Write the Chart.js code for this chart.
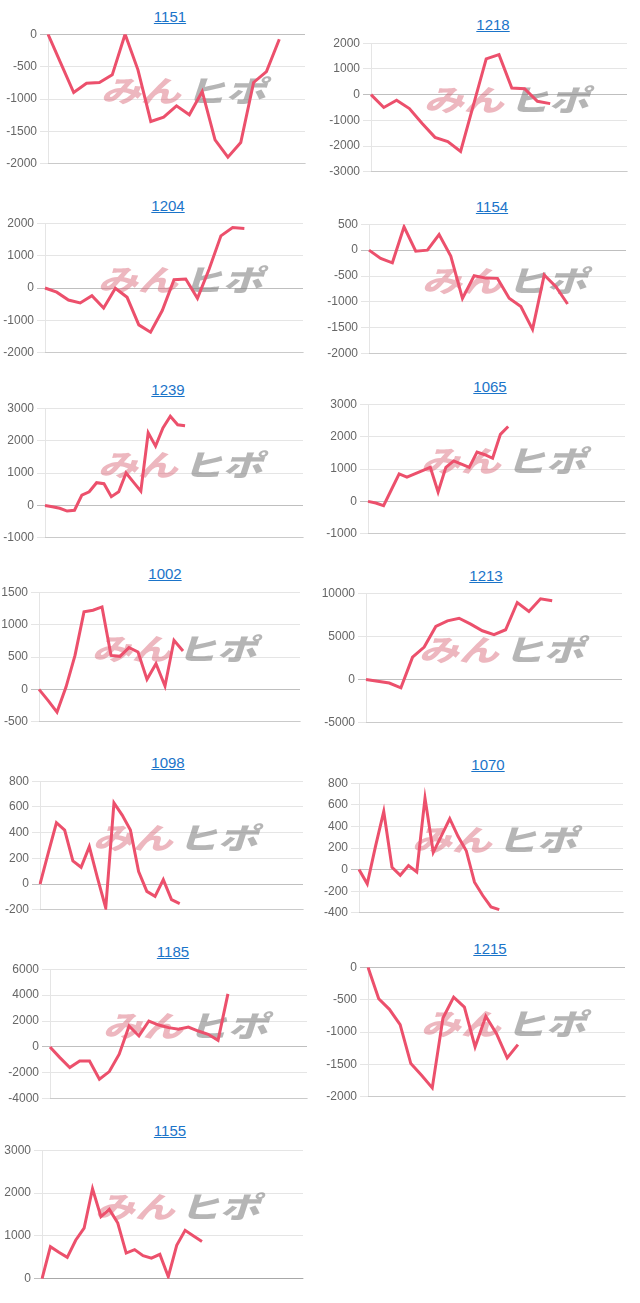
<!DOCTYPE html>
<html>
<head>
<meta charset="utf-8">
<script src="https://cdn.jsdelivr.net/npm/chart.js@4.4.1/dist/chart.umd.min.js"></script>
<style>
    body { margin: 0; background: #fff; width: 640px; height: 1303px; position: relative; overflow: hidden;
           font-family: "Liberation Sans", Arial, sans-serif; }
    .ttl { position: absolute; width: 120px; text-align: center; font-size: 15px; line-height: 20px; }
    .ttl a { color: #1b74c9; text-decoration: underline; }
    canvas { position: absolute; }
</style>
</head>
<body>
<script>
// ── Data ─────────────────────────────────────────────────
const titles = ['1151', '1218', '1204', '1154', '1239', '1065', '1002', '1213', '1098', '1070', '1185', '1215', '1155'];

const s1151 = [0, -450, -900, -756, -745, -627, 0, -550, -1347, -1280, -1105, -1244, -884, -1630, -1897, -1671, -745, -576, -77];
const s1218 = [0, -500, -220, -540, -1120, -1660, -1825, -2210, -410, 1390, 1555, 257, 230, -257, -350];
const s1204 = [0, -130, -370, -460, -236, -615, -10, -287, -1138, -1364, -697, 256, 277, -318, 585, 1610, 1867, 1836];
const s1154 = [0, -160, -245, 450, -20, 0, 300, -115, -930, -495, -540, -545, -930, -1090, -1530, -480, -705, -1040];
const s1239 = [0, -40, -90, -175, -150, 320, 420, 700, 670, 270, 420, 1000, 720, 440, 2240, 1830, 2390, 2750, 2490, 2460];
const s1065 = [0, -50, -130, 360, 850, 750, 850, 950, 1050, 290, 1050, 1250, 1150, 1050, 1520, 1440, 1330, 2070, 2310];
const s1002 = [0, -170, -350, 36, 525, 1196, 1222, 1273, 525, 510, 644, 577, 155, 397, 52, 758, 593];
const s1213 = [0, -200, -400, -960, 2600, 3770, 6150, 6800, 7100, 6420, 5650, 5200, 5770, 8920, 7880, 9350, 9120];
const s1098 = [0, 240, 477, 420, 180, 131, 291, 46, -186, 631, 536, 420, 98, -57, -95, 34, -121, -152];
const s1070 = [0, -132, 215, 538, 22, -52, 37, -22, 662, 160, 314, 471, 308, 175, -117, -240, -345, -370];
const s1185 = [0, -820, -1590, -1080, -1080, -2490, -1900, -560, 1615, 850, 2000, 1690, 1490, 1360, 1540, 1230, 975, 510, 4100];
const s1215 = [0, -487, -650, -887, -1487, -1667, -1862, -785, -462, -615, -1230, -758, -1026, -1400, -1195];
const s1155 = [0, 750, 620, 500, 900, 1180, 2100, 1450, 1620, 1300, 600, 680, 540, 480, 570, 50, 780, 1130, 1000, 870];

const seriesList = [s1151, s1218, s1204, s1154, s1239, s1065, s1002, s1213, s1098, s1070, s1185, s1215, s1155];

// number of x categories (labels are hidden) for each chart
const labelCounts = [21, 21, 23, 23, 36, 34, 30, 23, 33, 33, 27, 25, 32];

// y-axis ticks
const yMin  = [-2000, -3000, -2000, -2000, -1000, -1000, -500, -5000, -200, -400, -4000, -2000, 0];
const yMax  = [0, 2000, 2000, 500, 3000, 3000, 1500, 10000, 800, 800, 6000, 0, 3000];
const yStep = [500, 1000, 1000, 500, 1000, 1000, 500, 5000, 200, 200, 2000, 500, 1000];

// ── Layout (plot area box + title centre) ────────────────
const boxes = [
    { L: 48,  T: 34,   R: 305, B: 164,  tx: 170, ty: 17 },
    { L: 371, T: 43,   R: 627, B: 172,  tx: 493, ty: 25 },
    { L: 45,  T: 223,  R: 303, B: 353,  tx: 168, ty: 206 },
    { L: 369, T: 224,  R: 626, B: 354,  tx: 492, ty: 207 },
    { L: 45,  T: 408,  R: 303, B: 538,  tx: 168, ty: 390 },
    { L: 368, T: 404,  R: 625, B: 534,  tx: 490, ty: 387 },
    { L: 39,  T: 592,  R: 300, B: 722,  tx: 165, ty: 574 },
    { L: 366, T: 593,  R: 622, B: 723,  tx: 486, ty: 576 },
    { L: 40,  T: 781,  R: 303, B: 910,  tx: 168, ty: 763 },
    { L: 359, T: 783,  R: 623, B: 913,  tx: 488, ty: 765 },
    { L: 50,  T: 969,  R: 307, B: 1099, tx: 173, ty: 952 },
    { L: 368, T: 967,  R: 625, B: 1097, tx: 490, ty: 949 },
    { L: 42,  T: 1150, R: 303, B: 1279, tx: 170, ty: 1131 }
];

const AXIS_W = 48;
const LINE_COLOR = 'rgb(236, 80, 108)';

// ── Watermark plugin ─────────────────────────────────────
const watermark = {
    id: 'watermark',
    beforeDatasetsDraw(chart) {
        const a = chart.chartArea;
        const ctx = chart.ctx;
        ctx.save();
        ctx.translate(a.left + 139, (a.top + a.bottom) / 2 - 8);
        ctx.transform(1.25, 0, -0.3, 0.92, 0, 0);
        ctx.font = '900 32px "Noto Sans CJK JP"';
        ctx.textBaseline = 'middle';
        ctx.textAlign = 'right';
        ctx.fillStyle = 'rgba(215, 95, 112, 0.45)';
        ctx.fillText('みん', -2, 0);
        ctx.textAlign = 'left';
        ctx.fillStyle = 'rgba(120, 120, 120, 0.55)';
        ctx.fillText('ヒポ', 2, 0);
        ctx.restore();
    }
};

// ── Build charts ─────────────────────────────────────────
titles.forEach((title, i) => {
    const b = boxes[i];

    const t = document.createElement('div');
    t.className = 'ttl';
    t.style.left = (b.tx - 60) + 'px';
    t.style.top = (b.ty - 10) + 'px';
    t.innerHTML = `<a href="#">${title}</a>`;
    document.body.appendChild(t);

    const cv = document.createElement('canvas');
    const w = AXIS_W + (b.R - b.L) + 4;
    const h = (b.B - b.T) + 20;
    cv.width = w; cv.height = h;
    cv.style.width = w + 'px'; cv.style.height = h + 'px';
    cv.style.left = (b.L - AXIS_W) + 'px';
    cv.style.top = (b.T - 10) + 'px';
    document.body.appendChild(cv);

    const labels = Array.from({ length: labelCounts[i] }, (_, k) => String(k + 1));

    new Chart(cv.getContext('2d'), {
        type: 'line',
        data: {
            labels,
            datasets: [{
                data: seriesList[i],
                borderColor: LINE_COLOR,
                borderWidth: 3,
                pointRadius: 0,
                tension: 0,
                fill: false
            }]
        },
        options: {
            responsive: false, animation: false, devicePixelRatio: 1,
            layout: { padding: { top: 10, bottom: 10, left: 0, right: 4 } },
            plugins: { legend: { display: false }, tooltip: { enabled: false } },
            scales: {
                x: {
                    ticks: { display: false },
                    grid: { display: false, drawTicks: false },
                    border: { display: true, color: 'rgba(0,0,0,0.12)' }
                },
                y: {
                    min: yMin[i], max: yMax[i],
                    ticks: {
                        stepSize: yStep[i], color: '#666', padding: 3,
                        font: { size: 12, family: '"Liberation Sans", Arial, sans-serif' },
                        callback: v => String(v)
                    },
                    grid: {
                        color: c => (c.tick && c.tick.value === 0) ? 'rgba(0,0,0,0.25)' : 'rgba(0,0,0,0.1)',
                        tickLength: 8
                    },
                    border: { display: true, color: 'rgba(0,0,0,0.1)' },
                    afterFit(scale) { scale.width = AXIS_W; }
                }
            }
        },
        plugins: [watermark]
    });
});
</script>
</body>
</html>
